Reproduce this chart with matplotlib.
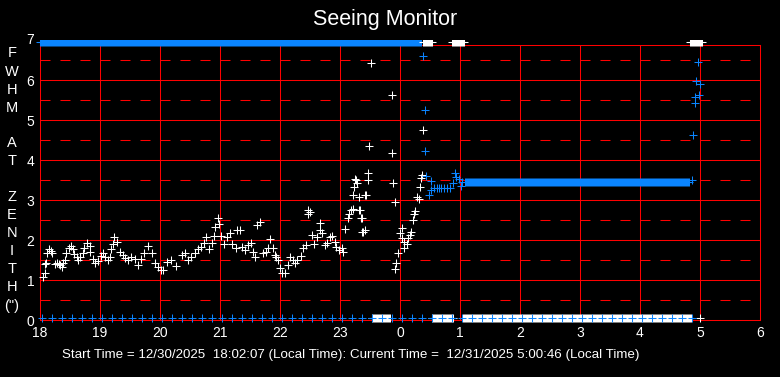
import numpy as np
import matplotlib
matplotlib.use("Agg")
import matplotlib.pyplot as plt
import matplotlib.transforms as mtransforms
from matplotlib.patches import Rectangle

plt.rcParams['font.family'] = ['Liberation Sans', 'DejaVu Sans']
plt.rcParams['lines.scale_dashes'] = False

# ---------------- data (hours since local midnight of start day; >24 = next day) -------------
white_t = [18.05, 18.08, 18.09, 18.10, 18.12, 18.15, 18.18, 18.20, 18.25, 18.28, 18.31, 18.33,
           18.36, 18.38, 18.41, 18.44, 18.48, 18.51, 18.55, 18.57, 18.61, 18.63, 18.66, 18.71,
           18.74, 18.79, 18.83, 18.84, 18.88, 18.92, 18.97, 19.02, 19.05, 19.08, 19.13, 19.16,
           19.19, 19.22, 19.23, 19.28, 19.33, 19.38, 19.42, 19.47, 19.52, 19.58, 19.63, 19.68,
           19.73, 19.80, 19.86, 19.91, 19.97, 20.02, 20.05, 20.11, 20.19, 20.27, 20.36, 20.41,
           20.47, 20.52, 20.58, 20.63, 20.69, 20.74, 20.77, 20.81, 20.86, 20.90, 20.92, 20.97,
           20.99, 21.02, 21.07, 21.11, 21.16, 21.20, 21.27, 21.29, 21.33, 21.36, 21.41, 21.47,
           21.51, 21.55, 21.59, 21.62, 21.66, 21.72, 21.76, 21.80, 21.84, 21.88, 21.92, 21.94,
           21.97, 22.00, 22.04, 22.08, 22.13, 22.17, 22.21, 22.25, 22.29, 22.35, 22.39, 22.43,
           22.46, 22.47, 22.50, 22.54, 22.57, 22.61, 22.66, 22.67, 22.70, 22.75, 22.79, 22.83,
           22.87, 22.91, 22.94, 22.98, 23.03, 23.05, 23.08, 23.13, 23.15, 23.18, 23.21, 23.22,
           23.24, 23.25, 23.27, 23.28, 23.31, 23.32, 23.33, 23.35, 23.36, 23.37, 23.38, 23.41,
           23.42, 23.43, 23.46, 23.47, 23.49, 23.51, 23.86, 23.87, 23.89, 23.91, 23.92, 23.94,
           23.97, 24.00, 24.03, 24.04, 24.07, 24.07, 24.11, 24.14, 24.16, 24.18, 24.21, 24.23,
           24.25, 24.28, 24.32, 24.33, 24.35, 24.37, 24.39]
white_v = [1.08, 1.18, 1.39, 1.43, 1.67, 1.77, 1.73, 1.67, 1.40, 1.42, 1.41, 1.38,
           1.33, 1.43, 1.50, 1.67, 1.79, 1.85, 1.77, 1.65, 1.58, 1.50, 1.58, 1.68,
           1.79, 1.93, 1.85, 1.71, 1.52, 1.42, 1.48, 1.60, 1.68, 1.57, 1.50, 1.57,
           1.77, 1.90, 2.08, 1.96, 1.71, 1.63, 1.54, 1.50, 1.57, 1.52, 1.38, 1.52,
           1.68, 1.85, 1.67, 1.43, 1.33, 1.25, 1.25, 1.46, 1.50, 1.35, 1.63, 1.67,
           1.50, 1.58, 1.68, 1.77, 1.83, 1.93, 2.07, 1.77, 1.92, 2.10, 2.33, 2.54,
           2.40, 2.10, 1.90, 2.07, 2.18, 1.90, 1.79, 2.25, 2.25, 1.83, 1.75, 1.88,
           1.93, 1.71, 1.57, 2.38, 2.46, 1.67, 1.71, 1.79, 2.02, 1.79, 1.63, 1.58,
           1.50, 1.29, 1.17, 1.17, 1.38, 1.58, 1.50, 1.42, 1.50, 1.60, 1.79, 1.88,
           2.64, 2.75, 2.71, 2.13, 1.90, 2.07, 2.25, 2.42, 2.18, 1.88, 1.93, 2.07,
           2.10, 1.96, 1.83, 1.75, 1.79, 1.71, 2.27, 2.54, 2.65, 2.75, 2.77, 3.13,
           3.33, 3.52, 3.50, 3.43, 3.08, 2.75, 2.75, 2.54, 2.56, 2.21, 2.21, 2.25,
           3.12, 3.13, 3.49, 3.67, 4.34, 6.42, 5.62, 4.17, 3.42, 2.94, 1.27, 1.42,
           1.67, 2.17, 2.29, 2.04, 1.79, 1.96, 1.89, 2.04, 2.13, 2.21, 2.50, 2.64,
           2.73, 3.07, 3.03, 3.32, 3.56, 3.62, 4.74]

blue_t = [24.39, 24.41, 24.42, 24.44, 24.48, 24.52, 24.52, 24.56, 24.61, 24.65, 24.69, 24.73,
          24.78, 24.84, 24.89, 24.92, 24.94, 24.99, 25.01, 25.03, 25.08]
blue_v = [6.59, 5.24, 4.22, 3.60, 3.13, 3.25, 3.48, 3.29, 3.31, 3.31, 3.31, 3.31,
          3.31, 3.29, 3.42, 3.67, 3.58, 3.53, 3.36, 3.46, 3.44]
blue_flat_span = (25.10, 28.83)     # steady run of readings
blue_flat_level = 3.45
blue_end_t = [28.86, 28.89, 28.91, 28.92, 28.94, 28.96, 28.99, 29.00]
blue_end_v = [3.49, 4.62, 5.42, 5.58, 5.98, 6.44, 5.62, 5.90]

# off-scale readings: pinned at the top (above 7) or bottom (no value)
top_level = 6.94
bottom_level = 0.05
blue_top_spans = [(18.00, 24.36)]
white_top_spans = [(24.38, 24.53), (24.86, 25.06), (28.83, 29.03)]
white_bottom_spans = [(23.53, 23.83), (24.53, 24.89), (25.05, 28.85)]
white_bottom_single = [29.00]
blue_bottom_span = (18.03, 28.87)
dense_step = 1.0 / 60      # cadence of dense runs (h)
blue_bottom_step = 1.0 / 6 # 10-minute cadence

hour_ticks = [18, 19, 20, 21, 22, 23, 24, 25, 26, 27, 28, 29, 30]
hour_labels = ['18', '19', '20', '21', '22', '23', '0', '1', '2', '3', '4', '5', '6']
y_ticks = [0, 1, 2, 3, 4, 5, 6]
ylabel_chars = ['F', 'W', 'H', 'M', 'A', 'T', 'Z', 'E', 'N', 'I', 'T', 'H', '(")']
ylabel_py = [53, 72, 90, 108, 143, 161, 197, 215, 233, 251, 269, 287, 306]

title = 'Seeing Monitor'
footer = 'Start Time = 12/30/2025  18:02:07 (Local Time): Current Time =  12/31/2025 5:00:46 (Local Time)'

# ---------------- drawing ----------------
W, H = 780, 377
RED = '#ff0000'
BLUE = '#0a84ff'
fig = plt.figure(figsize=(W / 100, H / 100), dpi=100, facecolor='black')
ax = fig.add_axes([40 / W, (H - 320) / H, 720 / W, 275 / H])
ax.set_facecolor('black')
ax.set_xlim(18, 30)
ax.set_ylim(0, 6.875)

lw = 0.75
for y in range(1, 7):
    ax.axhline(y, color=RED, lw=lw, zorder=1)
for y in np.arange(0.5, 7, 1.0):
    ax.axhline(y, color=RED, lw=lw, zorder=1, linestyle=(0, (7.2, 7.2)))
for x in hour_ticks[1:-1]:
    ax.axvline(x, color=RED, lw=lw, zorder=1)
for s in ax.spines.values():
    s.set_color(RED)
    s.set_linewidth(lw)

mk = dict(linestyle='none', marker='+', markersize=5.2, markeredgewidth=0.75, clip_on=False, zorder=3)

def span_times(a, b, step):
    return np.arange(a, b + 1e-9, step)

# clip region for the top pinned row (plot area extends to 7)
top_clip = Rectangle((17.9, 6.0), 12.2, 1.0, transform=ax.transData, visible=False)
ax.add_patch(top_clip)

# top pinned row
for a, b in blue_top_spans:
    t = span_times(a, b, dense_step)
    ln, = ax.plot(t, np.full(len(t), top_level), color=BLUE, **mk)
    ln.set_clip_on(True); ln.set_clip_path(top_clip)
for a, b in white_top_spans:
    t = span_times(a, b, dense_step)
    ln, = ax.plot(t, np.full(len(t), top_level), color='white', **mk)
    ln.set_clip_on(True); ln.set_clip_path(top_clip)

# bottom pinned row
for a, b in white_bottom_spans:
    t = span_times(a, b, dense_step)
    ax.plot(t, np.full(len(t), bottom_level), color='white', **mk)
ax.plot(white_bottom_single, [bottom_level] * len(white_bottom_single), color='white', **mk)
tb = span_times(blue_bottom_span[0], blue_bottom_span[1], blue_bottom_step)
ax.plot(tb, np.full(len(tb), bottom_level), color=BLUE, **mk)

# measured values
ax.plot(white_t, white_v, color='white', **mk)
ax.plot(blue_t, blue_v, color=BLUE, **mk)
tf = span_times(blue_flat_span[0], blue_flat_span[1], dense_step)
ax.plot(tf, np.full(len(tf), blue_flat_level), color=BLUE, **mk)
ax.plot(blue_end_t, blue_end_v, color=BLUE, **mk)

# ticks
ax.set_xticks(hour_ticks)
ax.set_xticklabels(hour_labels)
ax.set_yticks(y_ticks)
ax.set_yticklabels([str(v) for v in y_ticks])
ax.tick_params(axis='both', length=0, colors='white', labelsize=10)
ax.tick_params(axis='x', pad=4)
ax.tick_params(axis='y', pad=4)
trans = mtransforms.blended_transform_factory(ax.transAxes, ax.transData)
ax.annotate('7', xy=(0, 7), xycoords=trans, xytext=(-4, 0), textcoords='offset points',
            ha='right', va='center', color='white', fontsize=10, annotation_clip=False)

# vertical y label
for ch, py in zip(ylabel_chars, ylabel_py):
    fig.text(12 / W, 1 - py / H, ch, color='white', fontsize=10.5, ha='center', va='center')

fig.text(385 / W, 1 - 20 / H, title, color='white', fontsize=15.5, ha='center', va='center')
fig.text(62 / W, 1 - 355 / H, footer, color='white', fontsize=9.65, ha='left', va='center')

fig.savefig('out.png', dpi=100, facecolor='black')
